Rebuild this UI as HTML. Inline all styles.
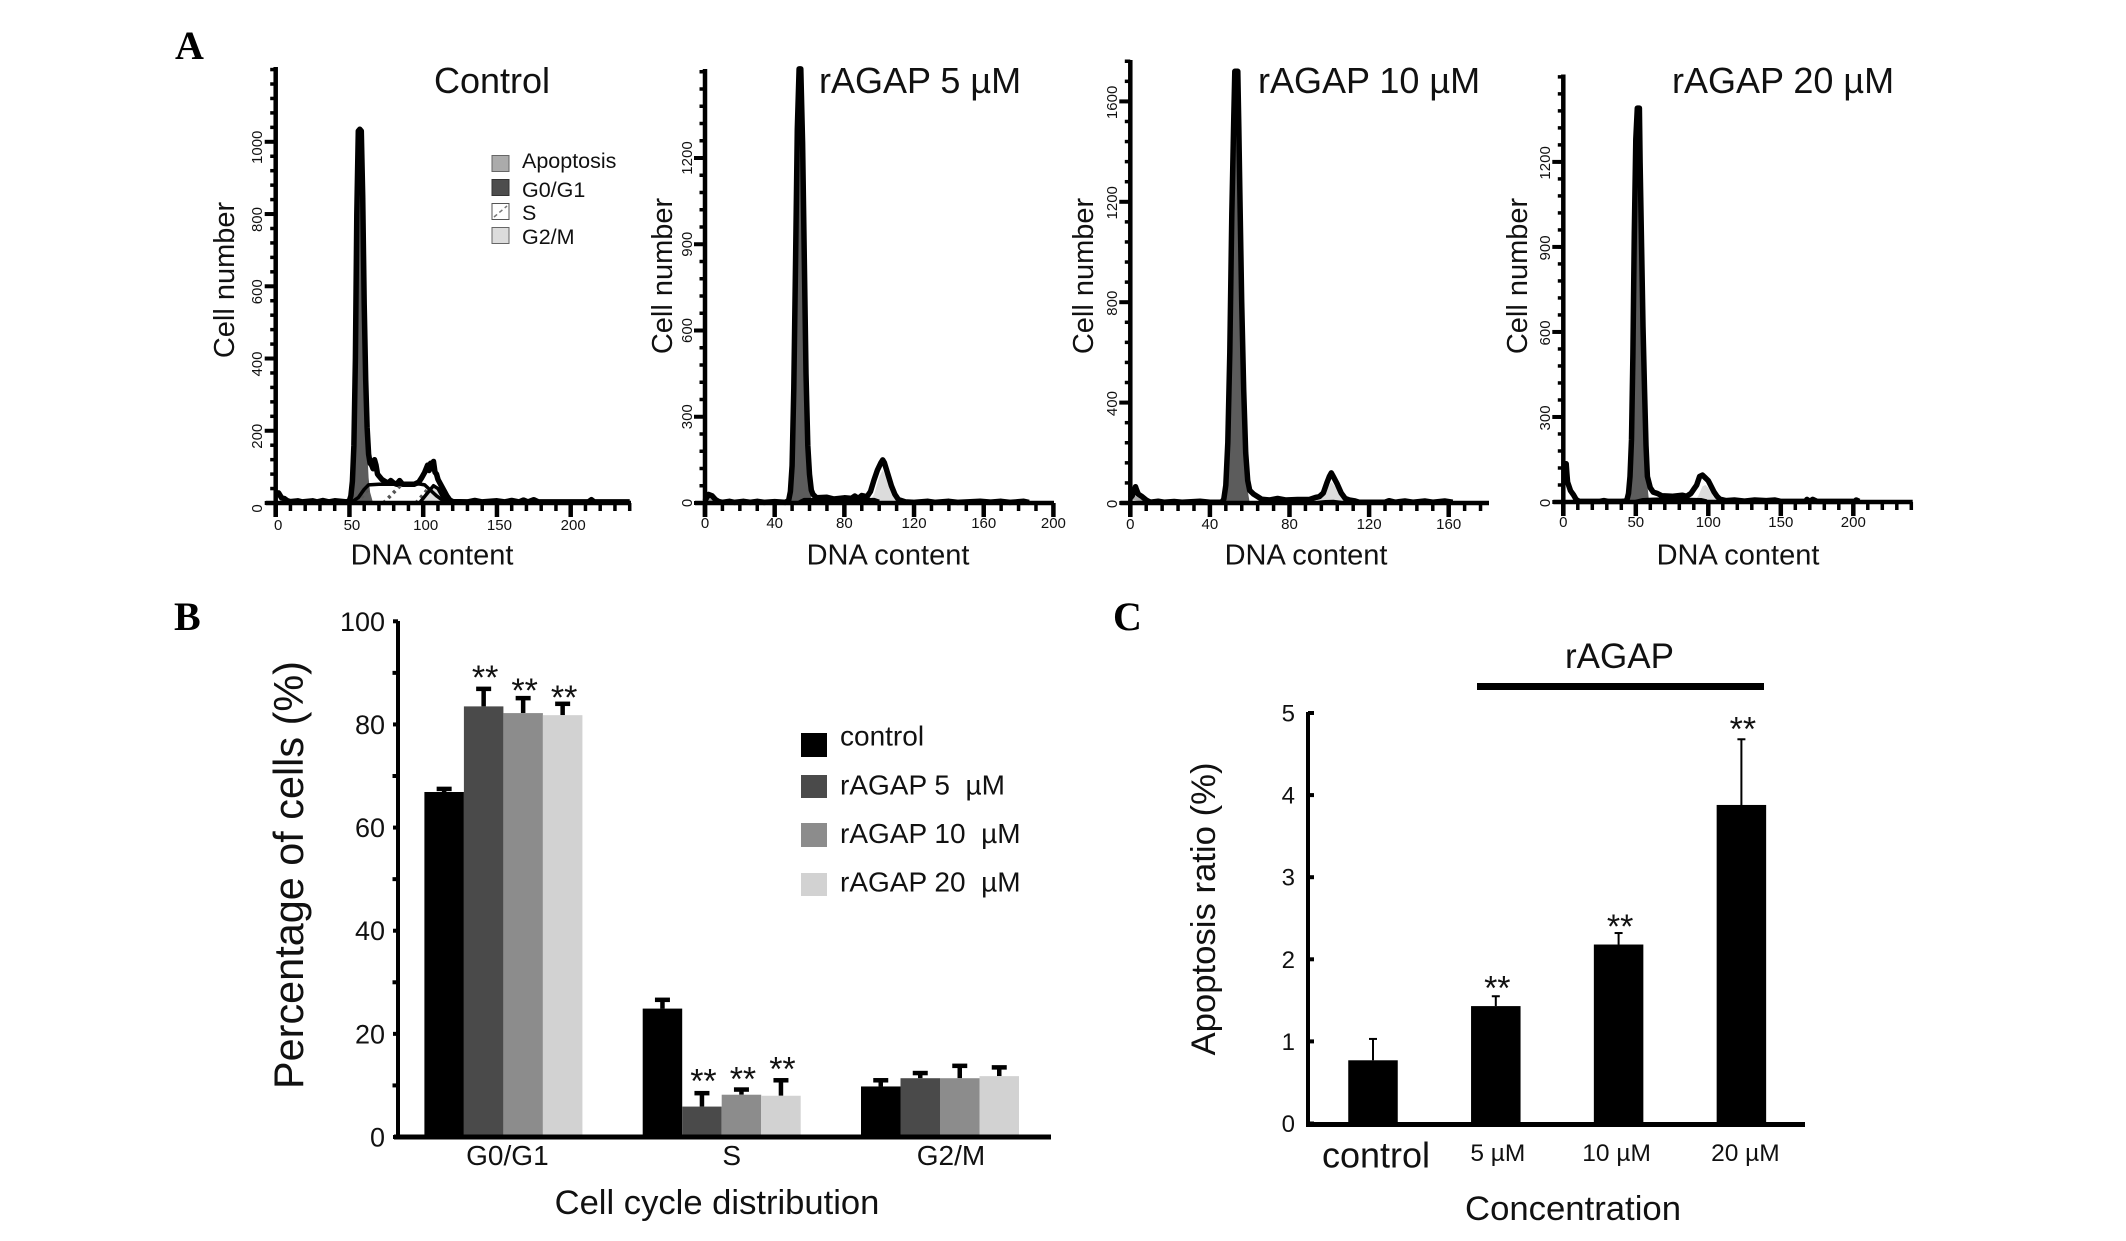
<!DOCTYPE html>
<html lang="en">
<head>
<meta charset="utf-8">
<title>Cell cycle and apoptosis figure</title>
<style>
html,body{margin:0;padding:0;background:#fff;}
svg{display:block;}
text{font-family:"Liberation Sans",Arial,sans-serif;fill:#111;}
.panel-letter{font-family:"Liberation Serif",serif;font-weight:bold;font-size:40px;fill:#000;}
.title{font-size:36px;}
.axis-a{font-size:29px;}
.legend-a{font-size:21.5px;}
.legend-b{font-size:28px;white-space:pre;}
</style>
</head>
<body>
<svg id="figure" width="2126" height="1241" viewBox="0 0 2126 1241" xmlns="http://www.w3.org/2000/svg">
  <rect x="0" y="0" width="2126" height="1241" fill="#fff"/>

  <text class="panel-letter" x="175" y="59">A</text>
  <text class="panel-letter" x="174" y="630">B</text>
  <text class="panel-letter" x="1113" y="630">C</text>

  <text class="title" x="434" y="93">Control</text>
  <text class="title" x="819" y="93">rAGAP 5 µM</text>
  <text class="title" x="1258" y="93">rAGAP 10 µM</text>
  <text class="title" x="1672" y="93">rAGAP 20 µM</text>

  <text class="axis-a" text-anchor="middle" transform="translate(234,280) rotate(-90)">Cell number</text>
  <text class="axis-a" text-anchor="middle" transform="translate(672,276) rotate(-90)">Cell number</text>
  <text class="axis-a" text-anchor="middle" transform="translate(1093,276) rotate(-90)">Cell number</text>
  <text class="axis-a" text-anchor="middle" transform="translate(1527,276) rotate(-90)">Cell number</text>

  <text class="axis-a" text-anchor="middle" x="432" y="564.5">DNA content</text>
  <text class="axis-a" text-anchor="middle" x="888" y="564.5">DNA content</text>
  <text class="axis-a" text-anchor="middle" x="1306" y="564.5">DNA content</text>
  <text class="axis-a" text-anchor="middle" x="1738" y="564.5">DNA content</text>

  <g>
    <rect x="492" y="155.5" width="17" height="16" fill="#ababab" stroke="#666" stroke-width="1"/>
    <rect x="492" y="179.5" width="17" height="16" fill="#4d4d4d" stroke="#333" stroke-width="1"/>
    <rect x="492" y="203.5" width="17" height="16" fill="#fff" stroke="#555" stroke-width="1"/>
    <line x1="494" y1="217" x2="507" y2="206" stroke="#777" stroke-width="1.5" stroke-dasharray="4 3"/>
    <rect x="492" y="227.5" width="17" height="16" fill="#dcdcdc" stroke="#666" stroke-width="1"/>
    <text class="legend-a" x="522" y="168">Apoptosis</text>
    <text class="legend-a" x="522" y="197">G0/G1</text>
    <text class="legend-a" x="522" y="220">S</text>
    <text class="legend-a" x="522" y="244">G2/M</text>
  </g>

  <text font-size="41.4" text-anchor="middle" transform="translate(303,875) rotate(-90)">Percentage of cells (%)</text>
  <text font-size="34.6" text-anchor="middle" x="717" y="1214">Cell cycle distribution</text>
  <g>
    <rect x="801" y="733" width="26" height="24" fill="#000"/>
    <rect x="801" y="775" width="26" height="23" fill="#4a4a4a"/>
    <rect x="801" y="823" width="26" height="24" fill="#8c8c8c"/>
    <rect x="801" y="873" width="26" height="23" fill="#d2d2d2"/>
    <text class="legend-b" x="840" y="745.5">control</text>
    <text class="legend-b" x="840" y="794.5" xml:space="preserve">rAGAP 5  µM</text>
    <text class="legend-b" x="840" y="843" xml:space="preserve">rAGAP 10  µM</text>
    <text class="legend-b" x="840" y="891.5" xml:space="preserve">rAGAP 20  µM</text>
  </g>

  <text font-size="35" text-anchor="middle" x="1619.5" y="668">rAGAP</text>
  <rect x="1477" y="683" width="287" height="7" fill="#000"/>
  <text font-size="34.7" text-anchor="middle" transform="translate(1215,909) rotate(-90)">Apoptosis ratio (%)</text>
  <text font-size="34.7" text-anchor="middle" x="1573" y="1220">Concentration</text>
</svg>

<script>
// Panel A: DNA histograms, each point is [DNA content, cell number]
const controlXTicks = [0, 50, 100, 150, 200];
const controlYTicks = [0, 200, 400, 600, 800, 1000];
const controlOutline = [[0,25],[2,28],[4,14],[6,12],[8,6],[10,4],[15,6],[18,3],[25,6],[28,3],[32,7],[36,3],[40,6],[48,3],[50,6],[51,20],[52,60],[53,160],[54,400],[55,800],[56,1030],[57,1035],[58,1030],[59,850],[60,550],[61,340],[62,210],[63,135],[64,110],[65,105],[66,95],[67,120],[68,105],[69,80],[70,75],[72,65],[74,60],[76,55],[78,62],[80,55],[82,52],[84,62],[86,52],[90,52],[94,52],[97,58],[99,70],[101,85],[103,105],[104,90],[105,110],[106,95],[107,115],[108,85],[109,80],[110,65],[112,50],[114,35],[116,20],[118,8],[120,4],[130,3],[135,7],[140,3],[150,6],[155,3],[160,7],[165,3],[168,8],[171,3],[175,9],[178,3],[212,3],[214,9],[216,3],[240,3]];
const controlG1Fill = [[50,0],[52,30],[53,150],[54,380],[55,780],[56,1020],[57,1030],[58,1020],[59,840],[60,540],[61,320],[62,150],[63,70],[64,30],[66,0]];
const controlG2Fill = [[98,0],[103,25],[107,42],[110,35],[113,15],[117,0]];
const controlApoFill = [[0,22],[3,15],[6,6],[10,0]];
const controlModel = [[52,4],[56,15],[60,38],[63,50],[70,52],[80,52],[90,52],[97,53],[101,50],[105,35],[109,20],[113,8],[117,2]];
const controlG2Line = [[98,3],[103,28],[107,48],[110,40],[113,18],[117,3]];
const controlHatch = [[[55,0],[64,44]],[[73,0],[85,50]],[[95,0],[104,42]]];

const r5XTicks = [0, 40, 80, 120, 160, 200];
const r5YTicks = [0, 300, 600, 900, 1200];
const r5Outline = [[0,8],[2,30],[4,25],[6,12],[8,5],[10,2],[14,6],[17,2],[22,6],[26,2],[30,6],[34,2],[40,5],[46,2],[48,8],[49,40],[50,130],[51,400],[52,850],[53,1300],[54,1510],[55,1510],[56,1250],[57,850],[58,450],[59,200],[60,100],[61,45],[62,30],[64,18],[70,20],[74,14],[80,18],[84,16],[86,24],[88,16],[90,26],[93,22],[95,40],[97,80],[99,115],[101,140],[102,150],[103,140],[105,100],[107,60],[109,30],[111,12],[115,4],[120,2],[128,6],[132,2],[140,6],[145,2],[158,6],[164,3],[170,6],[175,2],[183,6],[186,2]];
const r5G1Fill = [[48,0],[49,30],[50,120],[51,390],[52,840],[53,1290],[54,1500],[55,1500],[56,1240],[57,840],[58,440],[59,180],[60,70],[61,15],[62,0]];
const r5G2Fill = [[94,0],[97,30],[100,90],[102,115],[104,90],[106,55],[108,25],[111,5],[113,0]];
const r5ApoFill = [[0,6],[2,25],[4,20],[6,8],[9,0]];
const r5Model = [[54,3],[57,12],[65,12],[80,12],[92,12],[97,12],[100,6]];

const r10XTicks = [0, 40, 80, 120, 160];
const r10YTicks = [0, 400, 800, 1200, 1600];
const r10Outline = [[0,20],[1,30],[2,45],[2.6,65],[3,55],[4,35],[6,25],[8,12],[10,3],[14,7],[17,3],[22,6],[26,3],[35,7],[40,3],[46,3],[47,15],[48,70],[49,240],[50,600],[51,1150],[52,1540],[52.5,1720],[54,1720],[54.5,1500],[55,1250],[56,800],[57,450],[58,200],[59,90],[60,50],[62,35],[64,25],[66,15],[70,12],[74,18],[78,12],[84,14],[90,14],[93,22],[95,25],[97,40],[99,85],[100,105],[101,120],[102,105],[104,75],[106,40],[108,18],[110,12],[113,8],[115,3],[128,3],[130,9],[133,3],[138,8],[142,3],[148,8],[152,3],[158,8],[162,3]];
const r10G1Fill = [[47,0],[48,50],[49,220],[50,580],[51,1130],[52,1520],[52.5,1700],[54,1700],[54.5,1480],[55,1230],[56,780],[57,430],[58,180],[59,50],[60,0]];
const r10G2Fill = [[94,0],[97,25],[100,70],[101,85],[103,65],[105,35],[107,12],[109,0]];
const r10ApoFill = [[0,15],[2,30],[4,22],[6,12],[9,0]];
const r10Model = [[94,2],[98,5],[102,6],[106,2]];

const r20XTicks = [0, 50, 100, 150, 200];
const r20YTicks = [0, 300, 600, 900, 1200];
const r20Outline = [[0,130],[1,135],[2,135],[2.5,100],[3,70],[5,40],[7,25],[9,8],[11,2],[25,2],[28,5],[31,2],[40,2],[43,3],[44,10],[45,30],[46,90],[47,220],[48,520],[49,950],[50,1280],[51,1390],[52.5,1390],[53,1200],[54,900],[55,620],[56,400],[57,200],[58,90],[60,50],[62,35],[65,30],[68,22],[75,20],[82,24],[85,20],[88,30],[90,45],[92,60],[94,90],[96,95],[98,85],[100,75],[102,55],[104,35],[106,20],[108,10],[112,5],[118,7],[125,3],[132,7],[140,5],[146,7],[150,2],[167,2],[168,9],[170,2],[172,9],[175,2],[201,2],[202,7],[204,2]];
const r20G1Fill = [[44,0],[45,20],[46,80],[47,210],[48,510],[49,940],[50,1270],[51,1380],[52.5,1380],[53,1190],[54,890],[55,610],[56,390],[57,180],[58,60],[59,10],[60,0]];
const r20G2Fill = [[90,0],[93,20],[96,55],[98,60],[100,50],[102,32],[104,15],[107,0]];
const r20ApoFill = [[0,120],[2,110],[3,60],[5,32],[7,18],[10,0]];
const r20Model = [[50,2],[55,8],[65,10],[80,10],[95,8],[99,3]];

// Panel B: cell cycle bars, one value per category
const cycleCategories = ['G0/G1', 'S', 'G2/M'];
const cycleYTicks = [0, 20, 40, 60, 80, 100];
const cycleYMinor = [10, 30, 50, 70, 90];
const controlPct = [66.9, 24.9, 9.8];
const r5Pct = [83.5, 5.9, 11.4];
const r10Pct = [82.2, 8.2, 11.4];
const r20Pct = [81.8, 8, 11.8];
const controlErr = [0.6, 1.7, 1.2];
const r5Err = [3.4, 2.6, 1];
const r10Err = [2.9, 1, 2.4];
const r20Err = [2.2, 3, 1.7];
const r5StarGap = [3.8, 3.9, null];
const r10StarGap = [3, 3.6, null];
const r20StarGap = [2.8, 3.7, null];

// Panel C: apoptosis ratio
const apoCategories = ['control', '5 µM', '10 µM', '20 µM'];
const apoYTicks = [0, 1, 2, 3, 4, 5];
const apoValues = [0.77, 1.43, 2.18, 3.88];
const apoErrors = [0.26, 0.12, 0.14, 0.80];
const apoStarGap = [null, 0.2, 0.18, 0.22];

const NS = 'http://www.w3.org/2000/svg';
const root = document.getElementById('figure');
function add(tag, attrs, parent, text) {
  const el = document.createElementNS(NS, tag);
  for (const k in attrs) el.setAttribute(k, attrs[k]);
  if (text !== undefined) el.textContent = text;
  (parent || root).appendChild(el);
  return el;
}
function linear(d0, d1, r0, r1) {
  return function (v) { return r0 + (v - d0) * (r1 - r0) / (d1 - d0); };
}

function drawHistogram(cfg) {
  const g = add('g', {});
  
  
  const x = linear(cfg.xDomain[0], cfg.xDomain[1], cfg.x0, cfg.x1);
  const y = linear(0, cfg.yDomainMax, cfg.y0, cfg.yAtMax);
  const toLine = function (pts) { return pts.map(function (p, i) { return (i ? 'L' : 'M') + x(p[0]).toFixed(1) + ' ' + y(p[1]).toFixed(1); }).join(' '); };

  const apo = add('path', { d: toLine(cfg.apo) + ' Z', fill: '#ababab' }, g);
  
  
  const g1 = add('path', { d: toLine(cfg.g1) + ' Z', fill: '#5c5c5c' }, g);
  
  
  const g2 = add('path', { d: toLine(cfg.g2) + ' Z', fill: '#dcdcdc' }, g);
  
  

  (cfg.hatch || []).forEach(function (seg) {
    const h = add('path', { d: toLine(seg), fill: 'none', stroke: '#555', 'stroke-width': 3.5, 'stroke-dasharray': '3 4' }, g);
    
    
  });
  if (cfg.model) {
    const m = add('path', { d: toLine(cfg.model), fill: 'none', stroke: '#000', 'stroke-width': 3.5, 'stroke-linejoin': 'round' }, g);
    
    
  }
  if (cfg.g2Line) {
    const m2 = add('path', { d: toLine(cfg.g2Line), fill: 'none', stroke: '#000', 'stroke-width': 3.5, 'stroke-linejoin': 'round' }, g);
    
    
  }
  const o = add('path', { d: toLine(cfg.outline), fill: 'none', stroke: '#000', 'stroke-width': 5.5, 'stroke-linejoin': 'round' }, g);
  
  

  for (let v = 0; x(v) <= cfg.xEnd + 0.5; v += cfg.xMinor) {
    const mt = add('line', { x1: x(v), x2: x(v), y1: cfg.y0, y2: cfg.y0 + 8, stroke: '#000', 'stroke-width': 3.5 }, g);
    
    
  }
  for (let v = 0; y(v) >= cfg.yTop; v += cfg.yMinor) {
    const mt = add('line', { y1: y(v), y2: y(v), x1: cfg.x0, x2: cfg.x0 - 5.5, stroke: '#000', 'stroke-width': 3.5 }, g);
    
    
  }
  cfg.xTicks.forEach(function (v) {
    const t = add('line', { x1: x(v), x2: x(v), y1: cfg.y0, y2: cfg.y0 + 14, stroke: '#000', 'stroke-width': 4.5 }, g);
    
    
    const l = add('text', { x: x(v) + cfg.xLabelDx, y: cfg.xLabelY, 'font-size': 15, 'text-anchor': 'middle' }, g, v);
    
    
  });
  cfg.yTicks.forEach(function (v) {
    const t = add('line', { y1: y(v), y2: y(v), x1: cfg.x0, x2: cfg.x0 - 11, stroke: '#000', 'stroke-width': 4 }, g);
    
    
    const l = add('text', { 'font-size': 15, 'text-anchor': 'middle', transform: 'translate(' + cfg.yLabelX + ',' + (y(v) + cfg.yLabelDy) + ') rotate(-90)' }, g, v);
    
    
  });
  const ya = add('line', { x1: cfg.x0, x2: cfg.x0, y1: cfg.yTop, y2: cfg.y0 + 14, stroke: '#000', 'stroke-width': 4.5 }, g);
  
  
  const xa = add('line', { x1: cfg.x0 - 10, x2: cfg.xEnd, y1: cfg.y0, y2: cfg.y0, stroke: '#000', 'stroke-width': 4.5 }, g);
  
  
}

drawHistogram({ id: 'control', xDomain: [0, 200], x0: 275.7, x1: 570.7, xEnd: 631, yDomainMax: 1000, y0: 503, yAtMax: 141.8, yTop: 67, xMinor: 10, yMinor: 40, xTicks: controlXTicks, yTicks: controlYTicks, xLabelDx: 2.5, xLabelY: 530, yLabelX: 262, yLabelDy: 5.5, outline: controlOutline, g1: controlG1Fill, g2: controlG2Fill, apo: controlApoFill, model: controlModel, g2Line: controlG2Line, hatch: controlHatch });
drawHistogram({ id: 'ragap-5', xDomain: [0, 200], x0: 705, x1: 1053.4, xEnd: 1054, yDomainMax: 1200, y0: 503, yAtMax: 158, yTop: 69, xMinor: 10, yMinor: 60, xTicks: r5XTicks, yTicks: r5YTicks, xLabelDx: 0, xLabelY: 528, yLabelX: 692, yLabelDy: 0, outline: r5Outline, g1: r5G1Fill, g2: r5G2Fill, apo: r5ApoFill, model: r5Model });
drawHistogram({ id: 'ragap-10', xDomain: [0, 160], x0: 1130.3, x1: 1448.7, xEnd: 1489, yDomainMax: 1600, y0: 503, yAtMax: 101.4, yTop: 60, xMinor: 8, yMinor: 80, xTicks: r10XTicks, yTicks: r10YTicks, xLabelDx: 0, xLabelY: 529, yLabelX: 1117, yLabelDy: 1, outline: r10Outline, g1: r10G1Fill, g2: r10G2Fill, apo: r10ApoFill, model: r10Model });
drawHistogram({ id: 'ragap-20', xDomain: [0, 200], x0: 1563.3, x1: 1853.3, xEnd: 1912.7, yDomainMax: 1200, y0: 502, yAtMax: 161.9, yTop: 74.5, xMinor: 10, yMinor: 60, xTicks: r20XTicks, yTicks: r20YTicks, xLabelDx: 0, xLabelY: 527, yLabelX: 1550, yLabelDy: 1, outline: r20Outline, g1: r20G1Fill, g2: r20G2Fill, apo: r20ApoFill, model: r20Model });

// Panel B
(function () {
  const g = add('g', {});
  
  
  const y = linear(0, 100, 1137, 621.3);
  const groupX = function (i) { return 424.4 + i * 218.3; };
  const barW = 39.5;
  const catNudge = [4, 10, 11];
  const seriesVals = [controlPct, r5Pct, r10Pct, r20Pct];
  const seriesErrs = [controlErr, r5Err, r10Err, r20Err];
  const seriesGaps = [null, r5StarGap, r10StarGap, r20StarGap];
  const colors = ['#000', '#4a4a4a', '#8c8c8c', '#d2d2d2'];
  cycleCategories.forEach(function (cat, c) {
    seriesVals.forEach(function (vals, s) {
      const bx = groupX(c) + s * barW;
      const cx = bx + barW / 2;
      const top = y(vals[c]);
      const errTop = y(vals[c] + seriesErrs[s][c]);
      const stem = add('line', { x1: cx, x2: cx, y1: top, y2: errTop, stroke: '#000', 'stroke-width': 4.5 }, g);
      
      
      const cap = add('line', { x1: cx - 7.5, x2: cx + 7.5, y1: errTop, y2: errTop, stroke: '#000', 'stroke-width': 4.5 }, g);
      
      
      const bar = add('rect', { x: bx, y: top, width: barW, height: y(0) - top, fill: colors[s] }, g);
      
      
      const gaps = seriesGaps[s];
      if (gaps && gaps[c] !== null) {
        const st = add('text', { x: cx + 1.5, y: y(vals[c] + seriesErrs[s][c] + gaps[c]) + 19.5, 'font-size': 34, 'text-anchor': 'middle' }, g, '**');
        
        
      }
    });
    const cl = add('text', { x: groupX(c) + 2 * barW + catNudge[c], y: 1165, 'font-size': 28, 'text-anchor': 'middle' }, g, cat);
    
    
  });
  cycleYMinor.forEach(function (v) {
    const t = add('line', { x1: 392.5, x2: 398, y1: y(v), y2: y(v), stroke: '#000', 'stroke-width': 4 }, g);
    
    
  });
  cycleYTicks.forEach(function (v) {
    const t = add('line', { x1: 393, x2: 398, y1: y(v), y2: y(v), stroke: '#000', 'stroke-width': 4 }, g);
    
    
    const l = add('text', { x: 385, y: y(v) + 9.5, 'font-size': 27, 'text-anchor': 'end' }, g, v);
    
    
  });
  const ya = add('line', { x1: 398, x2: 398, y1: 621, y2: 1139, stroke: '#000', 'stroke-width': 4 }, g);
  
  
  const xa = add('line', { x1: 394, x2: 1051, y1: 1137, y2: 1137, stroke: '#000', 'stroke-width': 5 }, g);
  
  
})();

// Panel C
(function () {
  const g = add('g', {});
  
  
  const y = linear(0, 5, 1123.5, 713);
  const centerX = function (i) { return 1373 + i * 122.8; };
  const barW = 49.5;
  const labelSizes = [36, 24.5, 24.5, 24.5];
  const labelNudge = [3, 2, -2, 4];
  apoCategories.forEach(function (cat, i) {
    const cx = centerX(i);
    const top = y(apoValues[i]);
    const errTop = y(apoValues[i] + apoErrors[i]);
    const stem = add('line', { x1: cx, x2: cx, y1: top, y2: errTop, stroke: '#000', 'stroke-width': 2 }, g);
    
    
    const cap = add('line', { x1: cx - 4, x2: cx + 4, y1: errTop, y2: errTop, stroke: '#000', 'stroke-width': 2 }, g);
    
    
    const bar = add('rect', { x: cx - barW / 2, y: top, width: barW, height: y(0) - top, fill: '#000' }, g);
    
    
    if (apoStarGap[i] !== null) {
      const st = add('text', { x: cx + 1.5, y: y(apoValues[i] + apoErrors[i] + apoStarGap[i]) + 19.5, 'font-size': 34, 'text-anchor': 'middle' }, g, '**');
      
      
    }
    const cl = add('text', { x: cx + labelNudge[i], y: i === 0 ? 1167.5 : 1161, 'font-size': labelSizes[i], 'text-anchor': 'middle' }, g, cat);
    
    
  });
  apoYTicks.forEach(function (v) {
    const t = add('line', { x1: 1308, x2: 1314, y1: y(v), y2: y(v), stroke: '#000', 'stroke-width': 4 }, g);
    
    
    const l = add('text', { x: 1295, y: y(v) + 8.5, 'font-size': 24, 'text-anchor': 'end' }, g, v);
    
    
  });
  const ya = add('line', { x1: 1308, x2: 1308, y1: 712, y2: 1125.5, stroke: '#000', 'stroke-width': 4 }, g);
  
  
  const xa = add('line', { x1: 1306, x2: 1805, y1: 1124.5, y2: 1124.5, stroke: '#000', 'stroke-width': 5 }, g);
  
  
})();
</script>
</body>
</html>
